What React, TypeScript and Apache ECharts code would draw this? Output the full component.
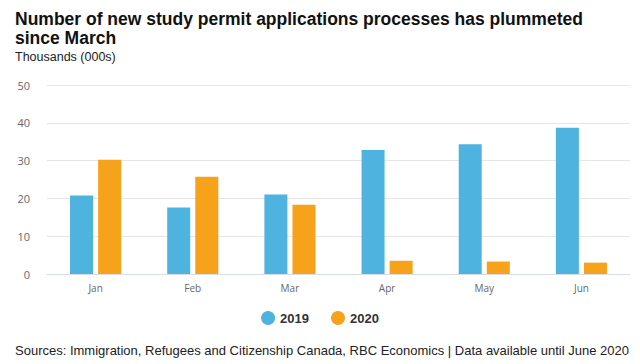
import React, { useEffect, useRef } from "react";
import * as echarts from "echarts";

const categories = ["Jan", "Feb", "Mar", "Apr", "May", "Jun"];
const values2019 = [20.8, 17.6, 21.0, 32.8, 34.3, 38.7];
const values2020 = [30.2, 25.7, 18.3, 3.5, 3.3, 3.0];
const yTicks = { min: 0, max: 50, interval: 10 };

export default function App() {
  const ref = useRef<HTMLDivElement>(null);
  useEffect(() => {
    const chart = echarts.init(ref.current!, null, { renderer: "svg" });
    chart.setOption({
      animation: false,
      backgroundColor: "#ffffff",
      title: [
        {
          text: "Number of new study permit applications processes has plummeted\nsince March",
          left: 10,
          top: 4,
          textStyle: { fontFamily: "Liberation Sans", fontSize: 17.5, fontWeight: "bold", color: "#111", lineHeight: 19 },
        },
        {
          text: "Thousands (000s)",
          left: 10,
          top: 45,
          textStyle: { fontFamily: "Liberation Sans", fontSize: 12.5, fontWeight: "normal", color: "#222" },
        },
        {
          text: "Sources: Immigration, Refugees and Citizenship Canada, RBC Economics | Data available until June 2020",
          left: 10,
          top: 339,
          textStyle: { fontFamily: "Liberation Sans", fontSize: 13, fontWeight: "normal", color: "#222" },
        },
      ],
      legend: {
        top: 306,
        left: "center",
        icon: "circle",
        itemWidth: 14,
        itemHeight: 14,
        itemGap: 22,
        textStyle: { fontFamily: "Liberation Sans", fontSize: 13, fontWeight: "bold", color: "#333" },
        data: ["2019", "2020"],
      },
      grid: { left: 47, right: 10, top: 85, bottom: 90 },
      xAxis: {
        type: "category",
        data: categories,
        axisTick: { show: false },
        axisLine: { lineStyle: { color: "#d8dde6" } },
        axisLabel: { color: "#666", fontFamily: "Open Sans", fontSize: 10, margin: 9 },
      },
      yAxis: {
        type: "value",
        min: yTicks.min,
        max: yTicks.max,
        interval: yTicks.interval,
        axisLabel: { color: "#666", fontFamily: "Open Sans", fontSize: 11, margin: 17 },
        splitLine: { lineStyle: { color: "#e6e6e6" } },
        axisLine: { show: false },
        axisTick: { show: false },
      },
      series: [
        {
          name: "2019",
          type: "bar",
          data: values2019,
          itemStyle: { color: "#4fb3e0" },
          barWidth: 23,
          barGap: "22%",
        },
        {
          name: "2020",
          type: "bar",
          data: values2020,
          itemStyle: { color: "#f7a21b" },
          barWidth: 23,
          barGap: "22%",
        },
      ],
    });
    return () => chart.dispose();
  }, []);
  return <div ref={ref} style={{ width: 640, height: 364, position: "absolute", left: 0, top: 0 }} />;
}
